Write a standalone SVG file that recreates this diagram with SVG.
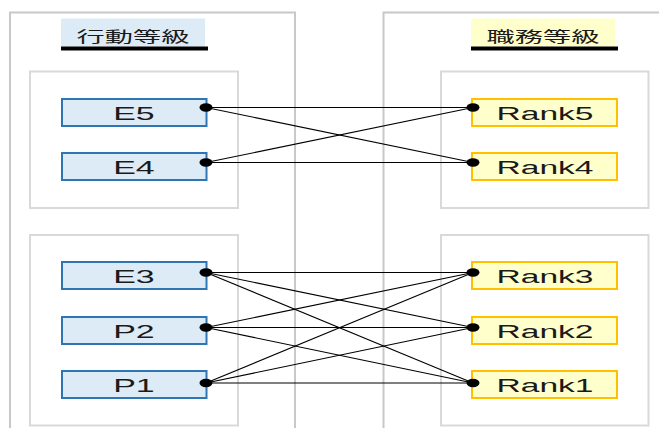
<svg xmlns="http://www.w3.org/2000/svg" width="659" height="428" viewBox="0 0 659 428">
  <defs>
    <style>
      .outer { fill: #ffffff; stroke: #c8c8c8; stroke-width: 2; }
      .inner { fill: #ffffff; stroke: #d9d9d9; stroke-width: 2; }
      .title-e { fill: #ddebf7; }
      .title-r { fill: #ffffcc; }
      .bar { fill: #000000; }
      .title { font-family: "Noto Sans CJK JP", "Noto Sans CJK SC", sans-serif; font-size: 15px; fill: #1a1a1a; text-anchor: middle; }
      .ebox { fill: #ddebf7; stroke: #2e75b6; stroke-width: 2; }
      .rbox { fill: #ffffcc; stroke: #ffc000; stroke-width: 2; }
      .lbl { font-family: "Liberation Sans", Arial, sans-serif; font-size: 18px; fill: #1a1a1a; text-anchor: middle; }
      .link { stroke: #000000; stroke-width: 1.1; fill: none; }
      .dot { fill: #000000; }
    </style>
  </defs>

  <rect width="659" height="428" fill="#ffffff"/>

  <!-- column panels -->
  <g id="panel-left">
    <rect class="outer" x="10" y="12.5" width="285" height="430"/>
    <rect class="title-e" x="61" y="18.5" width="144" height="28"/>
    <rect class="bar" x="61" y="46.5" width="147" height="4"/>
    <text class="title" x="133" y="41.5" textLength="113" lengthAdjust="spacingAndGlyphs">行動等級</text>
    <rect class="inner" x="30" y="71.5" width="208" height="136.5"/>
    <rect class="inner" x="30" y="235" width="208" height="190.5"/>
  </g>
  <g id="panel-right">
    <rect class="outer" x="383.5" y="12.5" width="290" height="430"/>
    <rect class="title-r" x="471" y="18.5" width="144" height="28"/>
    <rect class="bar" x="471" y="46.5" width="147" height="4"/>
    <text class="title" x="543" y="41.5" textLength="113" lengthAdjust="spacingAndGlyphs">職務等級</text>
    <rect class="inner" x="441" y="71.5" width="207.5" height="136.5"/>
    <rect class="inner" x="441" y="235" width="207.5" height="190.5"/>
  </g>

  <!-- connectors -->
  <g id="connectors">
    <line class="link" x1="206" y1="107.5" x2="473" y2="107.5"/>
    <line class="link" x1="206" y1="107.5" x2="473" y2="162.5"/>
    <line class="link" x1="206" y1="162.5" x2="473" y2="107.5"/>
    <line class="link" x1="206" y1="162.5" x2="473" y2="162.5"/>

    <line class="link" x1="206" y1="272.5" x2="473" y2="272.5"/>
    <line class="link" x1="206" y1="272.5" x2="473" y2="327.5"/>
    <line class="link" x1="206" y1="272.5" x2="473" y2="383"/>
    <line class="link" x1="206" y1="327.5" x2="473" y2="272.5"/>
    <line class="link" x1="206" y1="327.5" x2="473" y2="327.5"/>
    <line class="link" x1="206" y1="327.5" x2="473" y2="383"/>
    <line class="link" x1="206" y1="383" x2="473" y2="272.5"/>
    <line class="link" x1="206" y1="383" x2="473" y2="327.5"/>
    <line class="link" x1="206" y1="383" x2="473" y2="383"/>
  </g>

  <!-- behaviour grades -->
  <g id="E5">
    <rect class="ebox" x="62" y="99" width="144.5" height="27"/>
    <text class="lbl" x="134" y="119.5" textLength="41.5" lengthAdjust="spacingAndGlyphs">E5</text>
    <ellipse class="dot" cx="206" cy="107.5" rx="6.5" ry="4.2"/>
  </g>
  <g id="E4">
    <rect class="ebox" x="62" y="153" width="144.5" height="27"/>
    <text class="lbl" x="134" y="173.5" textLength="41.5" lengthAdjust="spacingAndGlyphs">E4</text>
    <ellipse class="dot" cx="206" cy="162.5" rx="6.5" ry="4.2"/>
  </g>
  <g id="E3">
    <rect class="ebox" x="62" y="262" width="144.5" height="27"/>
    <text class="lbl" x="134" y="282.5" textLength="41.5" lengthAdjust="spacingAndGlyphs">E3</text>
    <ellipse class="dot" cx="206" cy="272.5" rx="6.5" ry="4.2"/>
  </g>
  <g id="P2">
    <rect class="ebox" x="62" y="317" width="144.5" height="27"/>
    <text class="lbl" x="134" y="337.5" textLength="41.5" lengthAdjust="spacingAndGlyphs">P2</text>
    <ellipse class="dot" cx="206" cy="327.5" rx="6.5" ry="4.2"/>
  </g>
  <g id="P1">
    <rect class="ebox" x="62" y="371" width="144.5" height="27"/>
    <text class="lbl" x="134" y="391.5" textLength="41.5" lengthAdjust="spacingAndGlyphs">P1</text>
    <ellipse class="dot" cx="206" cy="383" rx="6.5" ry="4.2"/>
  </g>

  <!-- job ranks -->
  <g id="Rank5">
    <rect class="rbox" x="472" y="99" width="145" height="27"/>
    <text class="lbl" x="545" y="119.5" textLength="97" lengthAdjust="spacingAndGlyphs">Rank5</text>
    <ellipse class="dot" cx="473" cy="107.5" rx="6.5" ry="4.2"/>
  </g>
  <g id="Rank4">
    <rect class="rbox" x="472" y="153" width="145" height="27"/>
    <text class="lbl" x="545" y="173.5" textLength="97" lengthAdjust="spacingAndGlyphs">Rank4</text>
    <ellipse class="dot" cx="473" cy="162.5" rx="6.5" ry="4.2"/>
  </g>
  <g id="Rank3">
    <rect class="rbox" x="472" y="262" width="145" height="27"/>
    <text class="lbl" x="545" y="282.5" textLength="97" lengthAdjust="spacingAndGlyphs">Rank3</text>
    <ellipse class="dot" cx="473" cy="272.5" rx="6.5" ry="4.2"/>
  </g>
  <g id="Rank2">
    <rect class="rbox" x="472" y="317" width="145" height="27"/>
    <text class="lbl" x="545" y="337.5" textLength="97" lengthAdjust="spacingAndGlyphs">Rank2</text>
    <ellipse class="dot" cx="473" cy="327.5" rx="6.5" ry="4.2"/>
  </g>
  <g id="Rank1">
    <rect class="rbox" x="472" y="371" width="145" height="27"/>
    <text class="lbl" x="545" y="391.5" textLength="97" lengthAdjust="spacingAndGlyphs">Rank1</text>
    <ellipse class="dot" cx="473" cy="383" rx="6.5" ry="4.2"/>
  </g>
</svg>
